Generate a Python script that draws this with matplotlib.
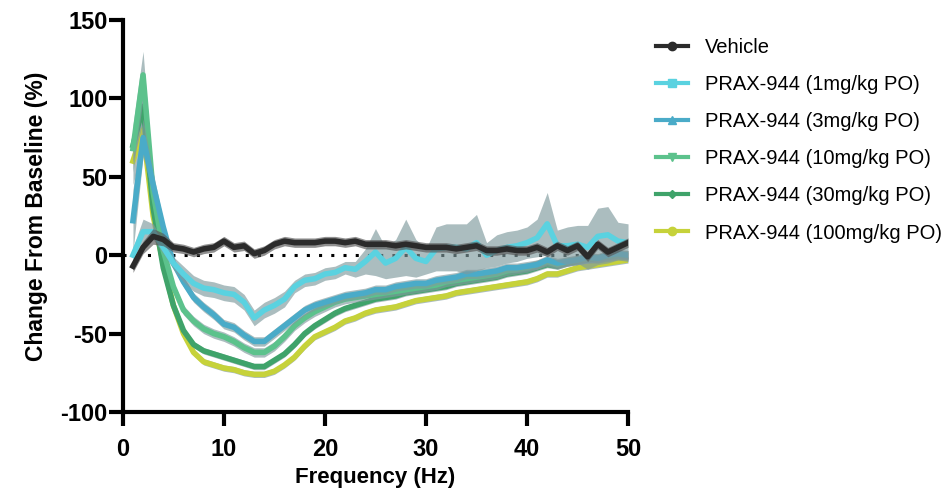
import numpy as np
import matplotlib.pyplot as plt
from matplotlib.lines import Line2D

plt.rcParams["font.family"] = ["Liberation Sans", "DejaVu Sans"]
plt.rcParams["axes.unicode_minus"] = False

freq = np.arange(1, 51)

vehicle = [-7, 5, 12, 10, 5, 4, 2, 4, 5, 9, 5, 6, 1, 3, 7, 9, 8, 8, 8, 9,
           9, 8, 9, 7, 7, 7, 6, 7, 6, 5, 5, 5, 4, 5, 6, 3, 3, 4, 3, 3,
           5, 2, 6, 3, 6, -1, 7, 2, 5, 8]
dose_1 = [0, 15, 15, 5, -5, -12, -18, -21, -22, -24, -25, -30, -40, -35, -32, -28, -20, -16, -15, -12,
          -11, -8, -9, -4, 2, -5, -2, 5, -2, -4, 4, 5, 5, 4, 8, 0, 3, 5, 6, 8,
          11, 20, 6, 6, 7, 5, 12, 13, 9, 8]
dose_3 = [22, 75, 45, 18, -5, -17, -27, -33, -38, -44, -46, -51, -55, -55, -50, -45, -40, -35, -32, -30,
          -28, -26, -25, -24, -22, -22, -20, -19, -18, -18, -16, -15, -14, -12, -12, -11, -10, -8, -8, -7,
          -6, -3, -5, -4, -3, -1, -2, 0, 1, 0]
dose_10 = [68, 115, 40, 3, -20, -35, -42, -47, -50, -52, -55, -59, -62, -62, -58, -52, -45, -40, -36, -33,
           -30, -28, -27, -26, -25, -24, -23, -22, -21, -20, -19, -17, -16, -15, -14, -13, -12, -10, -9, -8,
           -6, -4, -6, -4, -3, -2, -2, -1, 0, 0]
dose_30 = [70, 95, 30, -8, -32, -48, -57, -61, -63, -65, -67, -69, -71, -71, -67, -63, -57, -50, -45, -41,
           -37, -34, -32, -30, -28, -27, -26, -24, -23, -22, -21, -20, -18, -17, -16, -15, -14, -12, -11, -10,
           -8, -6, -7, -5, -4, -3, -2, -1, 0, 0]
dose_100 = [60, 80, 25, -5, -32, -50, -62, -68, -70, -72, -73, -75, -76, -76, -74, -70, -65, -58, -52, -49,
            -46, -42, -40, -37, -35, -34, -33, -31, -29, -28, -27, -26, -24, -23, -22, -21, -20, -19, -18, -17,
            -15, -12, -12, -10, -8, -7, -6, -5, -4, -3]

sem_vehicle = [4, 4, 5, 4, 3, 3, 3, 3, 3, 3, 3, 3, 3, 3, 3, 3, 3, 3, 3, 3,
               3, 3, 3, 3, 3, 3, 3, 3, 3, 3, 3, 3, 3, 3, 3, 3, 3, 3, 3, 3,
               3, 3, 3, 3, 3, 3, 3, 3, 3, 3]
sem_1 = [5, 8, 5, 4, 4, 5, 5, 5, 5, 5, 5, 5, 5, 5, 5, 5, 4, 4, 4, 4,
         4, 4, 5, 8, 15, 10, 12, 18, 12, 8, 14, 15, 15, 16, 18, 8, 10, 10, 10, 10,
         12, 20, 10, 12, 12, 14, 18, 18, 12, 12]
sem_3 = [20, 12, 8, 4, 3, 3, 3, 3, 3, 3, 3, 3, 3, 3, 3, 3, 3, 3, 3, 3,
         3, 3, 3, 3, 3, 3, 3, 3, 3, 3, 3, 3, 3, 3, 3, 3, 3, 3, 3, 3,
         3, 3, 3, 3, 3, 3, 3, 3, 3, 3]
sem_10 = [15, 15, 8, 4, 3, 3, 3, 3, 3, 3, 3, 3, 3, 3, 3, 3, 3, 3, 3, 3,
          3, 3, 3, 3, 3, 3, 3, 3, 3, 3, 3, 3, 3, 3, 3, 3, 3, 3, 3, 3,
          3, 3, 3, 3, 3, 3, 3, 3, 3, 3]
sem_30 = [10, 10, 6, 3, 2, 2, 2, 2, 2, 2, 2, 2, 2, 2, 2, 2, 2, 2, 2, 2,
          2, 2, 2, 2, 2, 2, 2, 2, 2, 2, 2, 2, 2, 2, 2, 2, 2, 2, 2, 2,
          2, 2, 2, 2, 2, 2, 2, 2, 2, 2]
sem_100 = [15, 10, 6, 3, 2, 2, 2, 2, 2, 2, 2, 2, 2, 2, 2, 2, 2, 2, 2, 2,
           2, 2, 2, 2, 2, 2, 2, 2, 2, 2, 2, 2, 2, 2, 2, 2, 2, 2, 2, 2,
           2, 2, 2, 2, 2, 2, 2, 2, 2, 2]

labels = ["Vehicle", "PRAX-944 (1mg/kg PO)", "PRAX-944 (3mg/kg PO)",
          "PRAX-944 (10mg/kg PO)", "PRAX-944 (30mg/kg PO)", "PRAX-944 (100mg/kg PO)"]
means = [vehicle, dose_1, dose_3, dose_10, dose_30, dose_100]
sems = [sem_vehicle, sem_1, sem_3, sem_10, sem_30, sem_100]
colors = ["#2b2b2b", "#5ad2e0", "#4aabc8", "#5cc28c", "#3fa36a", "#c6d23a"]
markers = ["o", "s", "^", "v", "D", "o"]

fig = plt.figure(figsize=(9.45, 4.94), dpi=100)
ax = fig.add_axes([0.130, 0.166, 0.5346, 0.7935])

ax.plot([0, 50], [0, 0], linestyle=(0, (1, 3)), color="black", linewidth=2.2, zorder=1)

order = [5, 4, 3, 2, 1, 0]
for i in order:
    m = np.array(means[i], dtype=float)
    s = np.array(sems[i], dtype=float)
    band = "#555555" if i == 0 else "#7f9a9d"
    ax.fill_between(freq, m - s, m + s, color=band, alpha=0.65, linewidth=0, zorder=2 + (5 - i))
    ax.plot(freq, m, color=colors[i], linewidth=4, zorder=2.5 + (5 - i) if i else 20)

ax.set_xlim(0, 50)
ax.set_ylim(-100, 150)
ax.set_xticks(np.arange(0, 51, 10))
ax.set_yticks(np.arange(-100, 151, 50))
for side in ["top", "right"]:
    ax.spines[side].set_visible(False)
for side in ["left", "bottom"]:
    ax.spines[side].set_linewidth(3)
    ax.spines[side].set_capstyle("projecting")
ax.tick_params(width=3, length=10, labelsize=17)
ax.tick_params(axis="y", pad=1)
ax.tick_params(axis="x", pad=9)
for lbl in ax.get_xticklabels() + ax.get_yticklabels():
    lbl.set_fontweight("bold")
ax.set_xlabel("Frequency (Hz)", fontsize=16, fontweight="bold", labelpad=4)
ax.set_ylabel("Change From Baseline (%)", fontsize=16.5, fontweight="bold", labelpad=9)

handles = [Line2D([0], [0], color=colors[i], marker=markers[i], markersize=6 if i != 4 else 4,
                  linewidth=3) for i in range(6)]
fig.legend(handles, labels, loc="upper left", bbox_to_anchor=(0.675, 0.96), frameon=False,
           fontsize=14.5, handlelength=1.6, labelspacing=0.9, handletextpad=0.85)

fig.savefig("out.png")
